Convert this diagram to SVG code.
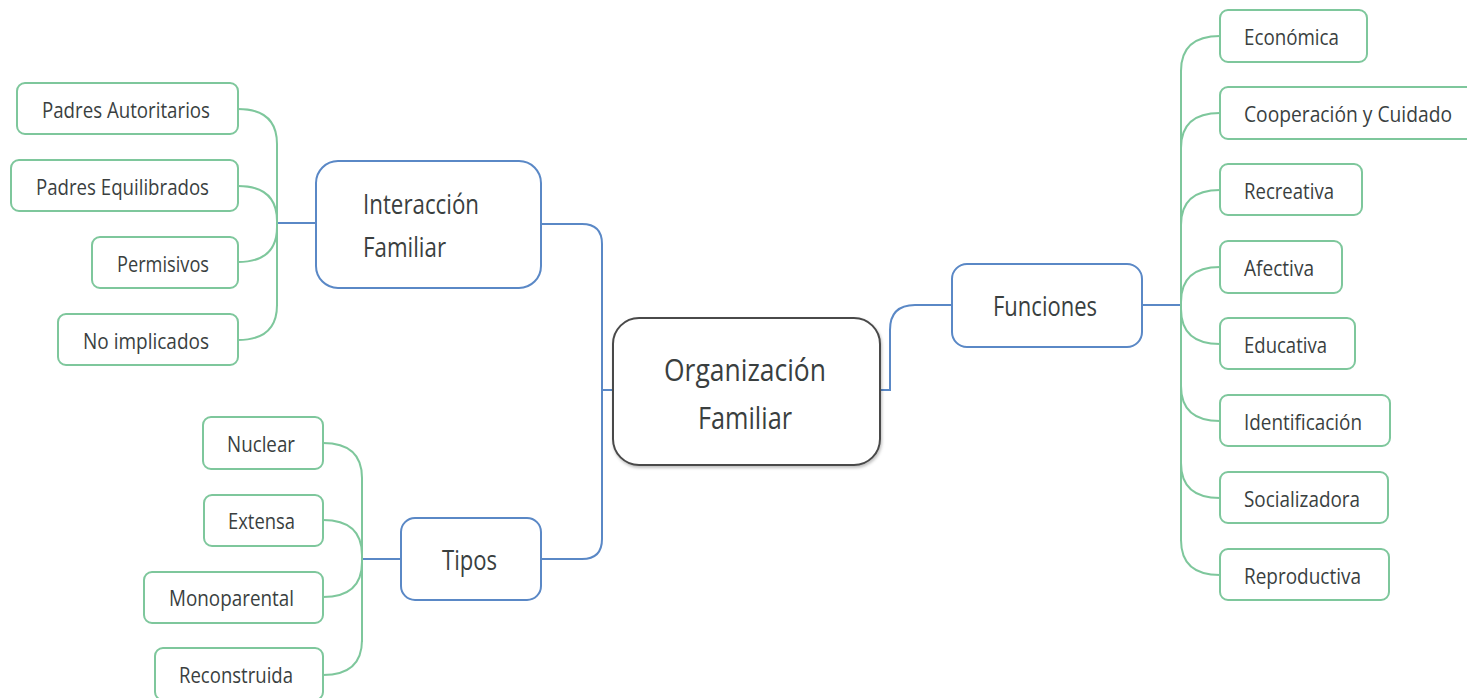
<svg xmlns="http://www.w3.org/2000/svg" width="1467" height="698" viewBox="0 0 1467 698">
<defs>
<style>
text{font-family:"Open Sans","Noto Sans","Liberation Sans",sans-serif;fill:#3a3f3f}
.leaf rect{fill:#fff;stroke:#7ec79c;stroke-width:2}
.leaf text{font-size:22px}
.main rect{fill:#fff;stroke:#5a88c6;stroke-width:2}
.main text{font-size:27px}
.root rect{fill:#fff;stroke:#4a4a4a;stroke-width:2}
.root text{font-size:31px;text-anchor:middle}
.cb{fill:none;stroke:#5a88c6;stroke-width:2}
.cg{fill:none;stroke:#7ec79c;stroke-width:2}
</style>
<filter id="sh" x="-10%" y="-10%" width="125%" height="125%">
<feDropShadow dx="1" dy="2" stdDeviation="1.5" flood-color="#000" flood-opacity="0.25"/>
</filter>
</defs>
<rect width="1467" height="698" fill="#fff"/>

<g id="connectors">
<path class="cb" d="M613 390 H602 V244 Q602 224 582 224 H541"/>
<path class="cb" d="M602 390 V539 Q602 559 582 559 H541"/>
<path class="cb" d="M880 390 H890 V330 Q890 305 915 305 H952"/>
<path class="cb" d="M1142 305 H1181"/>
<path class="cb" d="M277 223 H316"/>
<path class="cb" d="M362 559 H401"/>
<!-- left Interaccion leaves -->
<path class="cg" d="M277 144 V306"/>
<path class="cg" d="M238 109 C262 109 277 119 277 144"/>
<path class="cg" d="M238 186 C262 186 277 196 277 221"/>
<path class="cg" d="M238 262 C262 262 277 252 277 227"/>
<path class="cg" d="M238 340 C262 340 277 330 277 305"/>
<!-- Tipos leaves -->
<path class="cg" d="M362 478 V642"/>
<path class="cg" d="M323 443 C347 443 362 453 362 478"/>
<path class="cg" d="M323 520 C347 520 362 530 362 555"/>
<path class="cg" d="M323 597 C347 597 362 587 362 562"/>
<path class="cg" d="M323 675 C347 675 362 665 362 640"/>
<!-- Funciones leaves -->
<path class="cg" d="M1181 70 V541"/>
<path class="cg" d="M1220 36 C1196 36 1181 46 1181 71"/>
<path class="cg" d="M1220 113 C1196 113 1181 123 1181 148"/>
<path class="cg" d="M1220 190 C1196 190 1181 200 1181 225"/>
<path class="cg" d="M1220 267 C1196 267 1181 277 1181 302"/>
<path class="cg" d="M1220 344 C1196 344 1181 334 1181 309"/>
<path class="cg" d="M1220 421 C1196 421 1181 411 1181 386"/>
<path class="cg" d="M1220 498 C1196 498 1181 488 1181 463"/>
<path class="cg" d="M1220 575 C1196 575 1181 565 1181 540"/>
</g>

<g id="root" class="root">
<rect x="613" y="318" width="267" height="147" rx="26" filter="url(#sh)"/>
<text x="745" y="381" textLength="162" lengthAdjust="spacingAndGlyphs">Organización</text>
<text x="745" y="429" textLength="94" lengthAdjust="spacingAndGlyphs">Familiar</text>
</g>

<g id="interaccion" class="main">
<rect x="316" y="161" width="225" height="127" rx="22"/>
<text x="363" y="214" textLength="116" lengthAdjust="spacingAndGlyphs">Interacción</text>
<text x="363" y="257" textLength="83" lengthAdjust="spacingAndGlyphs">Familiar</text>
</g>

<g id="tipos" class="main">
<rect x="401" y="518" width="140" height="82" rx="14"/>
<text x="442" y="570" textLength="55" lengthAdjust="spacingAndGlyphs">Tipos</text>
</g>

<g id="funciones" class="main">
<rect x="952" y="264" width="190" height="83" rx="15"/>
<text x="993" y="316" textLength="104" lengthAdjust="spacingAndGlyphs">Funciones</text>
</g>

<g id="padres-autoritarios" class="leaf"><rect x="17" y="83" width="221" height="51" rx="8"/><text x="42" y="118" textLength="168" lengthAdjust="spacingAndGlyphs">Padres Autoritarios</text></g>
<g id="padres-equilibrados" class="leaf"><rect x="11" y="160" width="227" height="51" rx="8"/><text x="36" y="195" textLength="173" lengthAdjust="spacingAndGlyphs">Padres Equilibrados</text></g>
<g id="permisivos" class="leaf"><rect x="92" y="237" width="146" height="51" rx="8"/><text x="117" y="272" textLength="92" lengthAdjust="spacingAndGlyphs">Permisivos</text></g>
<g id="no-implicados" class="leaf"><rect x="58" y="314" width="180" height="51" rx="8"/><text x="83" y="349" textLength="126" lengthAdjust="spacingAndGlyphs">No implicados</text></g>

<g id="nuclear" class="leaf"><rect x="203" y="417" width="120" height="52" rx="8"/><text x="227" y="452" textLength="68" lengthAdjust="spacingAndGlyphs">Nuclear</text></g>
<g id="extensa" class="leaf"><rect x="204" y="495" width="119" height="51" rx="8"/><text x="228" y="529" textLength="67" lengthAdjust="spacingAndGlyphs">Extensa</text></g>
<g id="monoparental" class="leaf"><rect x="144" y="572" width="179" height="51" rx="8"/><text x="169" y="606" textLength="125" lengthAdjust="spacingAndGlyphs">Monoparental</text></g>
<g id="reconstruida" class="leaf"><rect x="155" y="648" width="168" height="52" rx="8"/><text x="179" y="683" textLength="114" lengthAdjust="spacingAndGlyphs">Reconstruida</text></g>

<g id="economica" class="leaf"><rect x="1220" y="10" width="147" height="52" rx="8"/><text x="1244" y="45" textLength="95" lengthAdjust="spacingAndGlyphs">Económica</text></g>
<g id="cooperacion" class="leaf"><rect x="1220" y="87" width="260" height="52" rx="8"/><text x="1244" y="122" textLength="208" lengthAdjust="spacingAndGlyphs">Cooperación y Cuidado</text></g>
<g id="recreativa" class="leaf"><rect x="1220" y="164" width="142" height="51" rx="8"/><text x="1244" y="199" textLength="90" lengthAdjust="spacingAndGlyphs">Recreativa</text></g>
<g id="afectiva" class="leaf"><rect x="1220" y="241" width="122" height="52" rx="8"/><text x="1244" y="276" textLength="70" lengthAdjust="spacingAndGlyphs">Afectiva</text></g>
<g id="educativa" class="leaf"><rect x="1220" y="318" width="135" height="51" rx="8"/><text x="1244" y="353" textLength="83" lengthAdjust="spacingAndGlyphs">Educativa</text></g>
<g id="identificacion" class="leaf"><rect x="1220" y="395" width="170" height="51" rx="8"/><text x="1244" y="430" textLength="118" lengthAdjust="spacingAndGlyphs">Identificación</text></g>
<g id="socializadora" class="leaf"><rect x="1220" y="472" width="168" height="51" rx="8"/><text x="1244" y="507" textLength="116" lengthAdjust="spacingAndGlyphs">Socializadora</text></g>
<g id="reproductiva" class="leaf"><rect x="1220" y="549" width="169" height="51" rx="8"/><text x="1244" y="584" textLength="117" lengthAdjust="spacingAndGlyphs">Reproductiva</text></g>
</svg>
